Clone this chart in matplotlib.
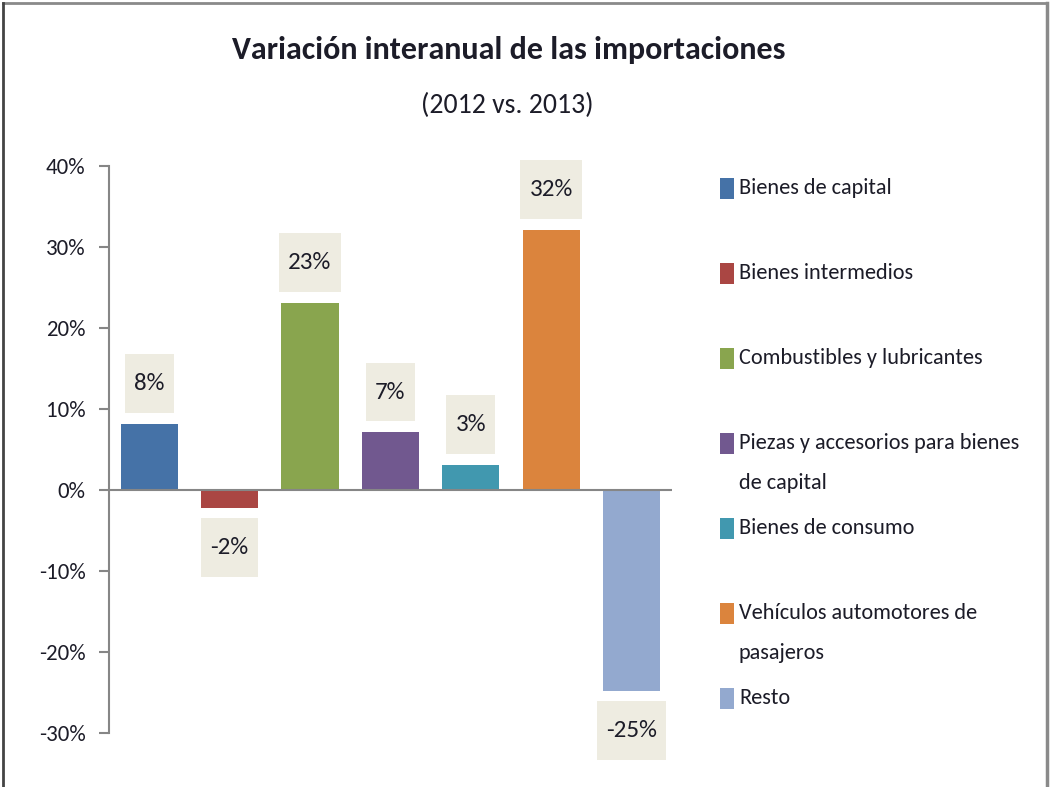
import matplotlib
matplotlib.use("Agg")
import matplotlib.pyplot as plt
from matplotlib.lines import Line2D
from matplotlib.patches import Rectangle
from matplotlib.path import Path
from matplotlib.ticker import FuncFormatter, MultipleLocator

plt.rcParams['font.family'] = ['Carlito', 'DejaVu Sans']

categories = ["Bienes de capital", "Bienes intermedios", "Combustibles y lubricantes",
              "Piezas y accesorios para bienes\nde capital", "Bienes de consumo",
              "Vehículos automotores de\npasajeros", "Resto"]
values = [8.2, -2.2, 23.1, 7.1, 3.1, 32.1, -24.8]
labels = ["8%", "-2%", "23%", "7%", "3%", "32%", "-25%"]
colors = ["#4572A7", "#AA4643", "#89A54E", "#71588F", "#4198AF", "#DB843D", "#93A9CF"]
title = "Variación interanual de las importaciones"
subtitle = "(2012 vs. 2013)"

text_color = "#1c1c28"
axis_color = "#868686"


def label_box(x0, y0, width, height, mutation_size):
    """Rectangle with separate horizontal / vertical padding (Excel-like label box)."""
    padx = 0.37 * mutation_size
    pady = 0.75 * mutation_size
    xa, xb = x0 - padx, x0 + width + padx
    ya, yb = y0 - pady, y0 + height + pady
    return Path([(xa, ya), (xb, ya), (xb, yb), (xa, yb), (xa, ya)],
                [Path.MOVETO, Path.LINETO, Path.LINETO, Path.LINETO, Path.CLOSEPOLY])


fig = plt.figure(figsize=(10.5, 7.87), dpi=100)
ax = fig.add_axes([0.1038, 0.0686, 0.536, 0.7205])

x = list(range(len(values)))
ax.bar(x, values, width=0.71, color=colors, zorder=2)
ax.set_xlim(-0.5, len(values) - 0.5)
ax.set_ylim(-30, 40)
ax.yaxis.set_major_locator(MultipleLocator(10))
ax.yaxis.set_major_formatter(FuncFormatter(lambda v, p: f"{v:.0f}%"))
ax.set_xticks([])

for s in ["top", "right", "bottom"]:
    ax.spines[s].set_visible(False)
ax.spines["left"].set_color(axis_color)
ax.spines["left"].set_linewidth(1.5)
ax.axhline(0, color=axis_color, lw=1.5, zorder=3)
ax.tick_params(axis="y", length=7, width=1.5, color=axis_color, pad=10,
               labelsize=16.5, labelcolor=text_color)

for xi, v, lab in zip(x, values, labels):
    off = 29 if v >= 0 else -28.5
    ax.annotate(lab, (xi, v), xytext=(0, off), textcoords="offset points",
                ha="center", va="center", fontsize=18, color=text_color,
                bbox=dict(boxstyle=label_box, fc="#EEECE1", ec="none"))

fig.text(0.485, 0.9365, title, ha="center", va="center", fontsize=23,
         fontweight="bold", color=text_color)
fig.text(0.483, 0.866, subtitle, ha="center", va="center", fontsize=20,
         color=text_color)

# legend, drawn manually to mimic Excel spacing
leg_top = 1 - 189 / 787
step = 85 / 787
for i, (cat, col) in enumerate(zip(categories, colors)):
    yc = leg_top - i * step
    fig.patches.append(Rectangle((720 / 1050, yc - 10 / 787), 14 / 1050, 21 / 787,
                                 transform=fig.transFigure, fc=col, ec="none"))
    fig.text(739 / 1050, yc + 11 / 787, cat, ha="left", va="top", fontsize=16,
             color=text_color, linespacing=2.25)

# outer frame
fig.add_artist(Line2D([0.003, 0.997], [0.996, 0.996], color="#8a8a8a", lw=2,
                      transform=fig.transFigure))
fig.add_artist(Line2D([0.003, 0.003], [0.0, 0.996], color="#444444", lw=2,
                      transform=fig.transFigure))
fig.add_artist(Line2D([0.997, 0.997], [0.0, 0.996], color="#8a8a8a", lw=2.5,
                      transform=fig.transFigure))

fig.savefig("out.png", dpi=100, facecolor="white")
